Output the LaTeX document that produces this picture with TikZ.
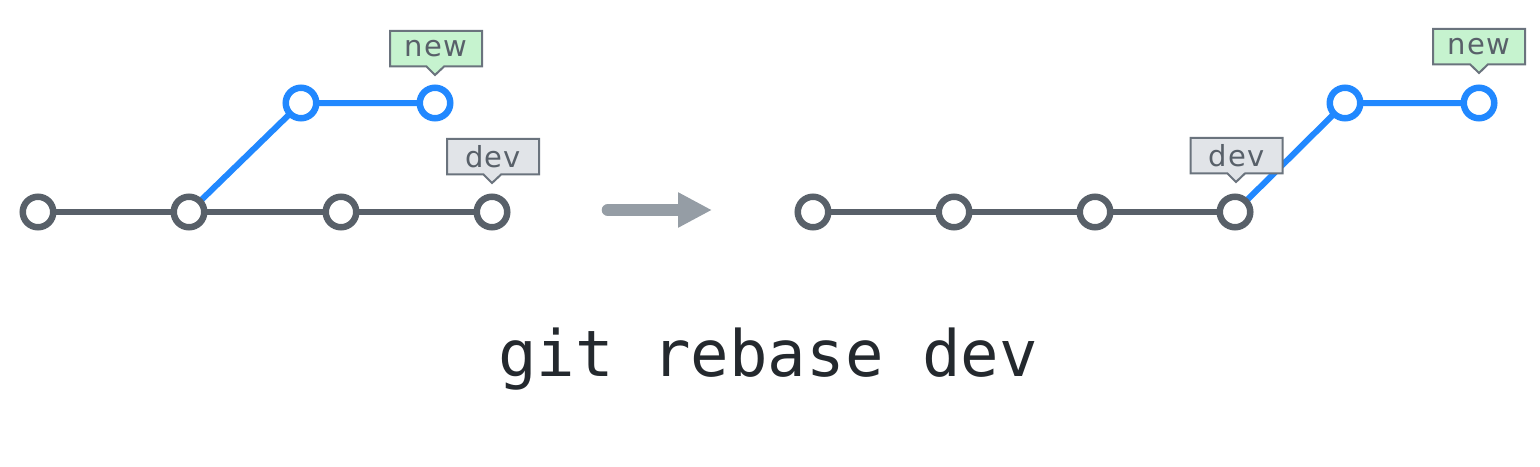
\documentclass[tikz,border=0pt]{standalone}
\usepackage{fontspec}
\setmainfont{DejaVu Sans}
\newfontfamily\cmdfont{DejaVu Sans Mono}
\newfontfamily\tagfont[LetterSpace=4]{DejaVu Sans}
\usetikzlibrary{shapes.callouts,arrows.meta}
\definecolor{commitgray}{HTML}{586069}
\definecolor{commitblue}{HTML}{2188FF}
\definecolor{arrowgray}{HTML}{959DA5}
\definecolor{tagborder}{HTML}{6A737D}
\definecolor{taggray}{HTML}{E1E4E8}
\definecolor{taggreen}{HTML}{C6F3CF}
\definecolor{textdark}{HTML}{24292E}
\tikzset{
  commit/.style={circle, draw=#1, line width=3.25pt, fill=white, minimum size=15.25pt, inner sep=0pt},
  branchline/.style={draw=#1, line width=3pt},
  tag/.style={rectangle callout, draw=tagborder, line width=1pt, fill=#1,
    minimum width=46pt, minimum height=17.75pt, inner sep=0pt,
    callout pointer width=9pt, text=commitgray, font=\tagfont\fontsize{14.5pt}{14.5pt}\selectfont},
}
\begin{document}
\begin{tikzpicture}[x=0.5pt,y=-0.5pt]
\useasboundingbox (0,0) rectangle (1540,466);
% left graph
\coordinate (a1) at (38,212);
\coordinate (a2) at (189,212);
\coordinate (a3) at (341,212);
\coordinate (a4) at (492,212);
\coordinate (b1) at (301,103);
\coordinate (b2) at (435,103);
\path[branchline=commitgray] (a1) -- (a2) -- (a3) -- (a4);
\path[branchline=commitblue] (a2) -- (b1) -- (b2);
\node[commit=commitgray] (ca1) at (a1) {};
\node[commit=commitgray] (ca2) at (a2) {};
\node[commit=commitgray] (ca3) at (a3) {};
\node[commit=commitgray] (ca4) at (a4) {};
\node[commit=commitblue] (cb1) at (b1) {};
\node[commit=commitblue] (cb2) at (b2) {};
\coordinate (pnewL) at (435,75);
\coordinate (pdevL) at (492,183);
\node[tag=taggreen, callout absolute pointer={(pnewL)}] (newL) at (436,48.5) {new};
\node[tag=taggray, callout absolute pointer={(pdevL)}] (devL) at (493,156.5) {dev};
% arrow
\coordinate (arS) at (608,210);
\coordinate (arE) at (712,210);
\draw[arrowgray, line width=6.3pt, line cap=round, -{Triangle[length=17pt,width=16.5pt]}] (arS) -- (arE);
% right graph
\coordinate (c1) at (813,212);
\coordinate (c2) at (954,212);
\coordinate (c3) at (1095,212);
\coordinate (c4) at (1235,212);
\coordinate (d1) at (1345,103);
\coordinate (d2) at (1479,103);
\path[branchline=commitgray] (c1) -- (c2) -- (c3) -- (c4);
\path[branchline=commitblue] (c4) -- (d1) -- (d2);
\node[commit=commitgray] (cc1) at (c1) {};
\node[commit=commitgray] (cc2) at (c2) {};
\node[commit=commitgray] (cc3) at (c3) {};
\node[commit=commitgray] (cc4) at (c4) {};
\node[commit=commitblue] (cd1) at (d1) {};
\node[commit=commitblue] (cd2) at (d2) {};
\coordinate (pdevR) at (1236,182);
\coordinate (pnewR) at (1479,73);
\node[tag=taggray, callout absolute pointer={(pdevR)}] (devR) at (1236.5,155.5) {dev};
\node[tag=taggreen, callout absolute pointer={(pnewR)}] (newR) at (1479,46.5) {new};
% command
\node[anchor=base, text=textdark, font=\cmdfont\fontsize{32pt}{32pt}\selectfont] (cmd) at (768,376) {git rebase dev};
\end{tikzpicture}
\end{document}
